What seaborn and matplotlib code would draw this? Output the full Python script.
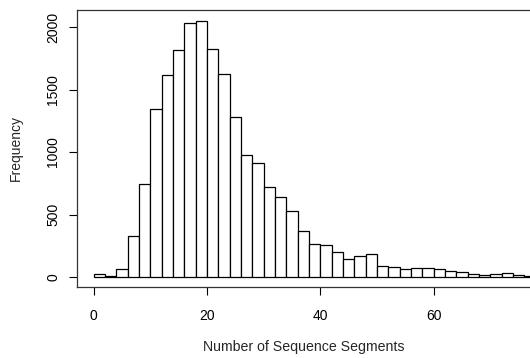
import matplotlib
matplotlib.use("Agg")
import matplotlib.pyplot as plt
import pandas as pd
import seaborn as sns

# histogram of segment counts, bins of width 2 starting at 0
bin_width = 2
counts = [24, 8, 67, 331, 747, 1347, 1616, 1819, 2029, 2048,
          1824, 1627, 1277, 976, 909, 723, 643, 528, 368, 264,
          256, 203, 147, 165, 187, 91, 80, 67, 75, 69,
          64, 48, 40, 27, 19, 21, 32, 16, 11]
bin_starts = [bin_width * i for i in range(len(counts))]
y_ticks = [0, 500, 1000, 1500, 2000]
x_ticks = [0, 20, 40, 60]

table = pd.DataFrame({"segments": [b + bin_width / 2 for b in bin_starts],
                      "count": counts})

sns.set_style("white")
plt.rcParams["font.family"] = ["Liberation Sans", "DejaVu Sans"]

fig = plt.figure(figsize=(5.30, 3.58), dpi=100)
ax = fig.add_axes([0.1447, 0.199, 1 - 0.1447, 0.773])

sns.histplot(data=table, x="segments", weights="count", binwidth=bin_width,
             binrange=(0, bin_width * len(counts)),
             color="white", edgecolor="black", linewidth=0.9, alpha=1, ax=ax)

ax.set_xlim(-3.0, 77.0)
ax.set_ylim(-78, 2136)
ax.set_xticks(x_ticks)
ax.set_yticks(y_ticks)
ax.set_yticklabels([str(v) for v in y_ticks], rotation=90, va="center")
ax.tick_params(axis="both", direction="out", length=6, width=0.8,
               colors="black", labelsize=10, left=True, bottom=True)
ax.tick_params(axis="x", pad=10)
ax.tick_params(axis="y", pad=6)

for side in ["left", "bottom", "top"]:
    ax.spines[side].set_color("#333333")
    ax.spines[side].set_linewidth(0.9)
ax.spines["right"].set_visible(False)

ax.set_xlabel("Number of Sequence Segments", fontsize=10.2, labelpad=12)
ax.set_ylabel("Frequency", fontsize=10, labelpad=17)

fig.savefig("out.png", dpi=100)
plt.close(fig)
